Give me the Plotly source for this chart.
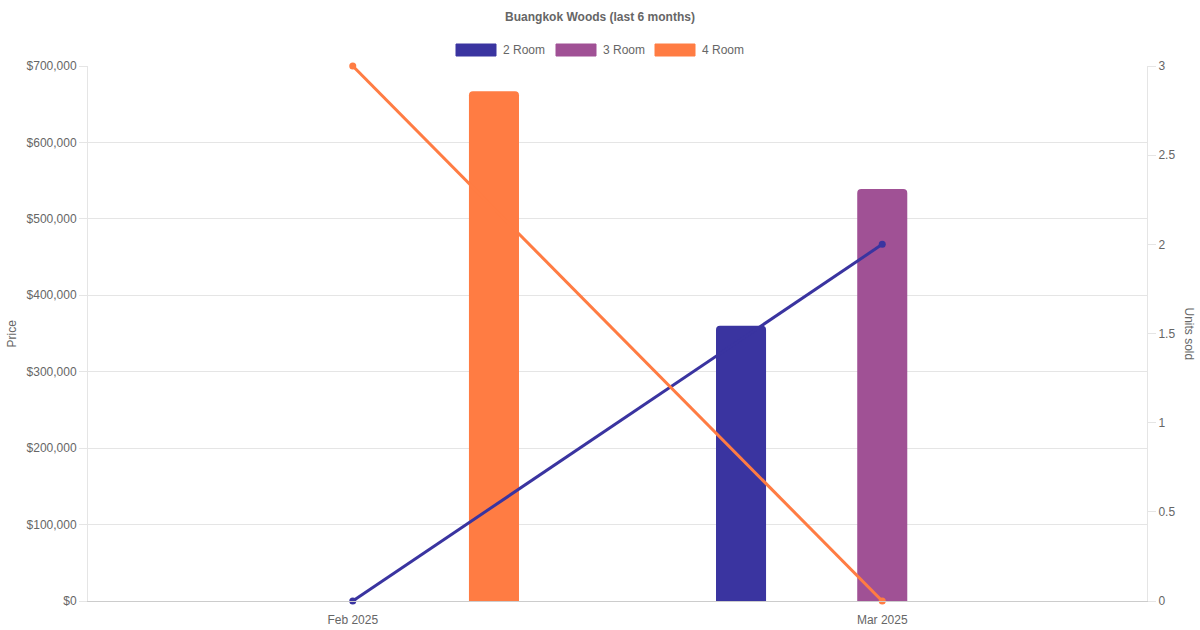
import plotly.graph_objects as go

months = ["Feb 2025", "Mar 2025"]
room_types = ["2 Room", "3 Room", "4 Room"]
colors = ["#3a34a0", "#a05195", "#ff7c43"]

# median price per room type (None = no sale that month)
price_2room = [None, 360000]
price_3room = [None, 539000]
price_4room = [667000, None]

# units sold
units_2room = [0, 2]
units_4room = [3, 0]

W, H = 1200, 630
L, R, T, B = 88, 1147, 66, 601
font = "Liberation Sans, Arial, sans-serif"
grey = "#666666"
grid = "#e5e5e5"

fig = go.Figure()

prices = [price_2room, price_3room, price_4room]
slot = 0.2667
bw = 0.0945
for i, (name, vals, col) in enumerate(zip(room_types, prices, colors)):
    fig.add_trace(go.Bar(
        x=months, y=vals, name=name,
        marker=dict(color=col, cornerradius=4, line=dict(width=0)),
        width=bw, offset=(i - 1) * slot - bw / 2,
        showlegend=False, hoverinfo="x+y",
    ))

for name, vals, col in [("2 Room", units_2room, colors[0]),
                        ("4 Room", units_4room, colors[2])]:
    fig.add_trace(go.Scatter(
        x=months, y=vals, name=name + " units", yaxis="y2",
        mode="lines+markers", cliponaxis=False,
        line=dict(color=col, width=3),
        marker=dict(color=col, size=7),
        showlegend=False,
    ))

# legend drawn by hand to match the wide colour boxes
shapes = []
annotations = []
legend_boxes = [456, 556, 655]
for x0, name, col in zip(legend_boxes, room_types, colors):
    shapes.append(dict(
        type="rect", xref="paper", yref="paper",
        x0=(x0 - L) / (R - L), x1=(x0 + 40 - L) / (R - L),
        y0=(B - 56) / (B - T), y1=(B - 44) / (B - T),
        fillcolor=col, line=dict(color=col, width=1), layer="above",
    ))
    annotations.append(dict(
        text=name, xref="paper", yref="paper",
        x=(x0 + 45 - L) / (R - L), y=(B - 50) / (B - T),
        xanchor="left", yanchor="middle", showarrow=False,
        font=dict(family=font, size=12, color=grey),
    ))

annotations.append(dict(
    text="Price", xref="paper", yref="paper",
    x=(11 - L) / (R - L), y=0.5, textangle=-90,
    xanchor="center", yanchor="middle", showarrow=False,
    font=dict(family=font, size=12, color=grey),
))
annotations.append(dict(
    text="Units sold", xref="paper", yref="paper",
    x=(1189 - L) / (R - L), y=0.5, textangle=90,
    xanchor="center", yanchor="middle", showarrow=False,
    font=dict(family=font, size=12, color=grey),
))

fig.update_layout(
    width=W, height=H,
    margin=dict(l=L, r=W - R, t=T, b=H - B, autoexpand=False),
    paper_bgcolor="white", plot_bgcolor="white",
    barmode="overlay",
    font=dict(family=font, size=12, color=grey),
    title=dict(
        text="<b>Buangkok Woods (last 6 months)</b>",
        x=0.5, xref="container", y=1 - 17 / H, yref="container",
        xanchor="center", yanchor="middle",
        font=dict(family=font, size=12, color=grey),
    ),
    xaxis=dict(
        type="category", categoryarray=months, range=[-0.5, 1.5],
        showgrid=False, zeroline=False, automargin=False,
        showline=True, linecolor="#cccccc", linewidth=1,
        ticks="", ticklabelstandoff=8, tickfont=dict(size=12, color=grey),
    ),
    yaxis=dict(
        range=[0, 700000], dtick=100000, tickprefix="$", tickformat=",d",
        showgrid=True, gridcolor=grid, zeroline=False, automargin=False,
        showline=True, linecolor=grid,
        ticks="outside", ticklen=8, tickcolor=grid,
        tickfont=dict(size=12, color=grey),
    ),
    yaxis2=dict(
        overlaying="y", side="right", range=[0, 3], dtick=0.5,
        showgrid=False, zeroline=False, automargin=False,
        showline=True, linecolor=grid,
        ticks="outside", ticklen=8, tickcolor=grid,
        tickfont=dict(size=12, color=grey),
    ),
    shapes=shapes,
    annotations=annotations,
)

# drop the browser's default body margin so the 1200x630 figure fills the window
fig.write_html("out.html", config={"displayModeBar": False},
               post_script="document.body.style.margin='0';document.body.style.overflow='hidden';")
